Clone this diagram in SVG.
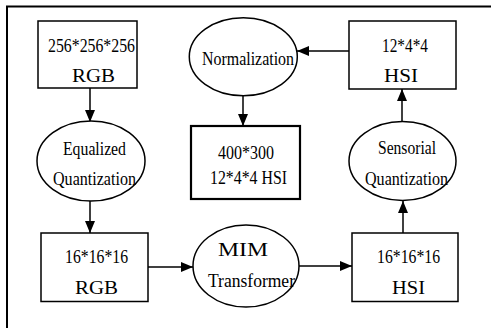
<svg xmlns="http://www.w3.org/2000/svg" width="491" height="328" viewBox="0 0 491 328">
<defs>
<style>
.box{fill:#fff;stroke:#000;stroke-width:1.5}
.thick{stroke-width:2.2}
.ell{fill:#fff;stroke:#000;stroke-width:1.5}
.t{font-family:"Liberation Serif","Times New Roman",serif;font-size:19px;fill:#000}
.c{stroke:#000;stroke-width:1.5;fill:none}
.frame{stroke:#000;stroke-width:2;fill:none}
</style>
<marker id="ah" viewBox="0 0 12 10" refX="12" refY="5" markerWidth="12" markerHeight="10" markerUnits="userSpaceOnUse" orient="auto">
<path d="M0,0 L12,5 L0,10 Z" fill="#000"/>
</marker>
</defs>
<rect width="491" height="328" fill="#fff"/>
<path class="frame" d="M7,328 V6.5 H491"/>

<g id="connectors">
<line class="c" x1="90" y1="88" x2="90" y2="122" marker-end="url(#ah)"/>
<line class="c" x1="90" y1="201" x2="90" y2="233" marker-end="url(#ah)"/>
<line class="c" x1="148" y1="267" x2="193" y2="267" marker-end="url(#ah)"/>
<line class="c" x1="299" y1="266" x2="352" y2="266" marker-end="url(#ah)"/>
<line class="c" x1="403" y1="233" x2="403" y2="201" marker-end="url(#ah)"/>
<line class="c" x1="402" y1="122" x2="402" y2="89" marker-end="url(#ah)"/>
<line class="c" x1="349" y1="51" x2="297" y2="51" marker-end="url(#ah)"/>
<line class="c" x1="243" y1="96" x2="243" y2="126" marker-end="url(#ah)"/>
</g>

<g id="rgb256">
<rect class="box" x="38" y="21" width="99" height="67"/>
<text class="t" x="48" y="52" textLength="87" lengthAdjust="spacingAndGlyphs">256*256*256</text>
<text class="t" x="72" y="82" textLength="43" lengthAdjust="spacingAndGlyphs">RGB</text>
</g>

<g id="equalized">
<ellipse class="ell" cx="91" cy="161" rx="54" ry="40"/>
<text class="t" x="63" y="155" textLength="63" lengthAdjust="spacingAndGlyphs">Equalized</text>
<text class="t" x="53" y="185" textLength="83" lengthAdjust="spacingAndGlyphs">Quantization</text>
</g>

<g id="rgb16">
<rect class="box" x="41" y="233" width="107" height="68.5"/>
<text class="t" x="65" y="263" textLength="63" lengthAdjust="spacingAndGlyphs">16*16*16</text>
<text class="t" x="75" y="294" textLength="43" lengthAdjust="spacingAndGlyphs">RGB</text>
</g>

<g id="mim">
<ellipse class="ell" cx="246" cy="266" rx="53" ry="41"/>
<text class="t" x="218" y="256" textLength="50" lengthAdjust="spacingAndGlyphs">MIM</text>
<text class="t" x="208" y="287" textLength="87" lengthAdjust="spacingAndGlyphs">Transformer</text>
</g>

<g id="hsi16">
<rect class="box" x="352" y="233" width="106" height="68.5"/>
<text class="t" x="377" y="263" textLength="63" lengthAdjust="spacingAndGlyphs">16*16*16</text>
<text class="t" x="392" y="294" textLength="33" lengthAdjust="spacingAndGlyphs">HSI</text>
</g>

<g id="sensorial">
<ellipse class="ell" cx="402.5" cy="161" rx="53.5" ry="39.5"/>
<text class="t" x="378" y="154" textLength="58" lengthAdjust="spacingAndGlyphs">Sensorial</text>
<text class="t" x="365" y="185" textLength="83" lengthAdjust="spacingAndGlyphs">Quantization</text>
</g>

<g id="hsi12">
<rect class="box" x="349" y="21" width="107" height="68"/>
<text class="t" x="382" y="52" textLength="46" lengthAdjust="spacingAndGlyphs">12*4*4</text>
<text class="t" x="384" y="82" textLength="34" lengthAdjust="spacingAndGlyphs">HSI</text>
</g>

<g id="normalization">
<ellipse class="ell" cx="243.3" cy="56.7" rx="54" ry="39"/>
<text class="t" x="202" y="65" textLength="92" lengthAdjust="spacingAndGlyphs">Normalization</text>
</g>

<g id="result">
<rect class="box thick" x="191" y="126" width="109" height="73"/>
<text class="t" x="218" y="159" textLength="56" lengthAdjust="spacingAndGlyphs">400*300</text>
<text class="t" x="210" y="184" textLength="77" lengthAdjust="spacingAndGlyphs">12*4*4 HSI</text>
</g>
</svg>
